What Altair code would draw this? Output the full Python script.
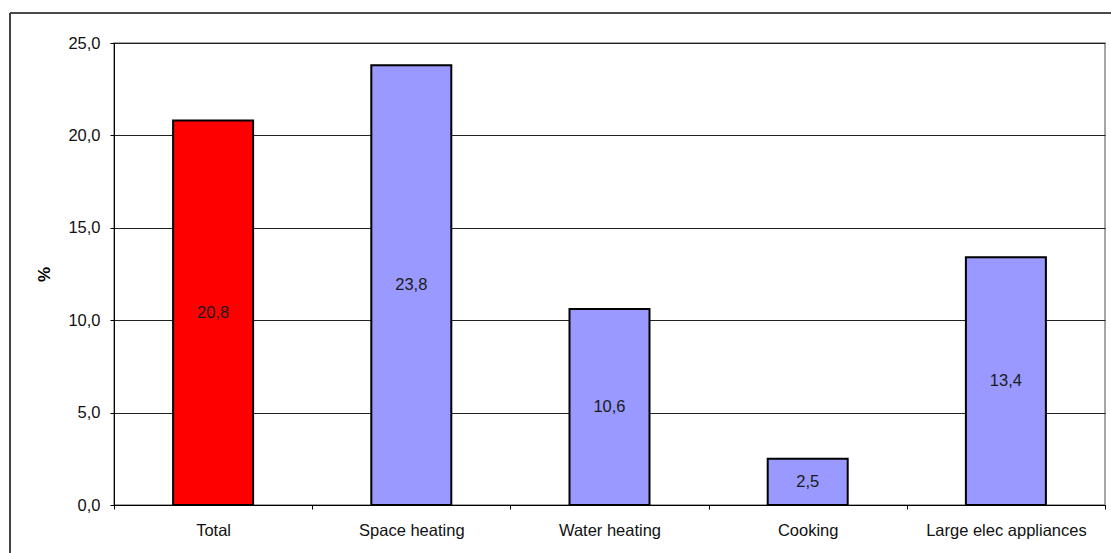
import altair as alt
import pandas as pd

categories = ["Total", "Space heating", "Water heating", "Cooking", "Large elec appliances"]
values = [20.8, 23.8, 10.6, 2.5, 13.4]
colors = ["#FF0000", "#9999FF", "#9999FF", "#9999FF", "#9999FF"]
y_ticks = [0, 5, 10, 15, 20, 25]

df = pd.DataFrame({"cat": categories, "val": values, "col": colors})

FONT = "Liberation Sans"
FS = 16.5

x_enc = alt.X("cat:N", sort=categories, title=None,
              scale=alt.Scale(paddingInner=0, paddingOuter=0),
              axis=alt.Axis(labelAngle=0, tickBand="extent", tickSize=4,
                            labelPadding=13, labelFontSize=FS, labelFont=FONT,
                            labelColor="#111", domainColor="#000", tickColor="#000",
                            grid=False))

bars = alt.Chart(df).mark_bar(size=80, stroke="#000", strokeWidth=2).encode(
    x=x_enc,
    y=alt.Y("val:Q", title="%", scale=alt.Scale(domain=[0, 25], nice=False),
            axis=alt.Axis(values=y_ticks, tickSize=4, labelPadding=10,
                          labelExpr="replace(format(datum.value, '.1f'), '.', ',')",
                          labelFontSize=FS, labelFont=FONT, labelColor="#111",
                          titleFont=FONT, titleFontSize=17, titleFontWeight="bold",
                          titleColor="#000", titlePadding=14, titleAngle=270,
                          domainColor="#000", tickColor="#000",
                          gridColor="#222", gridOpacity=1, gridWidth=1)),
    color=alt.Color("col:N", scale=None),
)

labels = alt.Chart(df).transform_calculate(
    mid="datum.val / 2",
    txt="replace(format(datum.val, '.1f'), '.', ',')",
).mark_text(font=FONT, fontSize=FS, color="#1a1a1a").encode(
    x=alt.X("cat:N", sort=categories),
    y=alt.Y("mid:Q"),
    text="txt:N",
)

frame_top = alt.Chart(df).mark_rule(color="#444", strokeWidth=1.2).encode(
    x=alt.value(-104), x2=alt.value(1100), y=alt.value(-30))
frame_left = alt.Chart(df).mark_rule(color="#444", strokeWidth=1.2).encode(
    x=alt.value(-104), y=alt.value(-30), y2=alt.value(600))

chart = alt.layer(bars, labels, frame_top, frame_left).properties(
    width=991, height=462,
    autosize=alt.AutoSizeParams(type="none"),
    padding={"left": 114, "top": 43, "right": 6, "bottom": 48},
    background="white",
).configure_view(stroke="#888", strokeWidth=1.5)

chart.save("out.html", embed_options={"renderer": "svg", "actions": False})
